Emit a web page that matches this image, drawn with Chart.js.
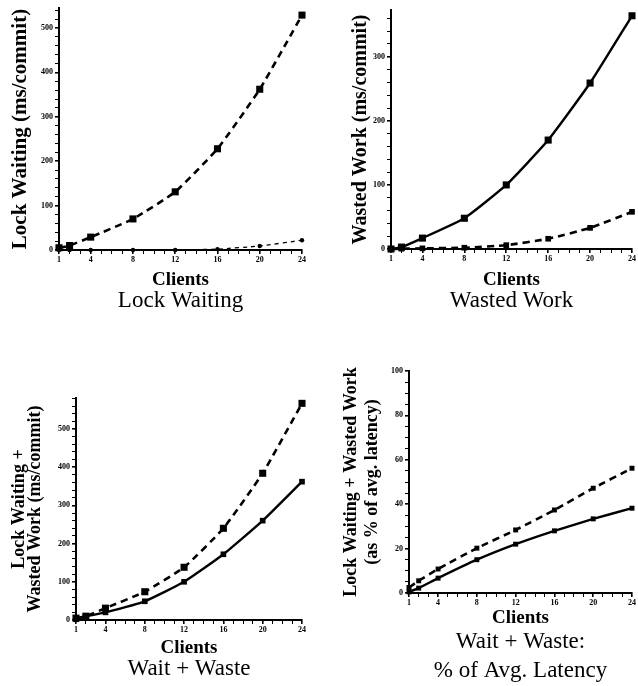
<!DOCTYPE html>
<html>
<head>
<meta charset="utf-8">
<script src="https://cdn.jsdelivr.net/npm/chart.js@4.4.1/dist/chart.umd.min.js"></script>
<style>
  html, body { margin: 0; padding: 0; background: #fff; }
  body { width: 638px; height: 686px; position: relative; overflow: hidden; }
  canvas { position: absolute; }
</style>
</head>
<body>
<canvas id="lockWait" width="320" height="320" style="left:0;top:0"></canvas>
<canvas id="wasted" width="318" height="320" style="left:320px;top:0"></canvas>
<canvas id="total" width="320" height="356" style="left:0;top:330px"></canvas>
<canvas id="pct" width="318" height="356" style="left:320px;top:330px"></canvas>
<script>
// Number of concurrent clients measured
const clients = [1, 2, 4, 8, 12, 16, 20, 24];
const xTickLabels = [1, 4, 8, 12, 16, 20, 24];

// Lock waiting, ms per commit
const lockWaitDashed = [5, 10, 29, 70, 131, 228, 362, 529];
const lockWaitSolid = [0, 0, 0, 0, 0, 2, 9, 22];
const lockWaitTicks = [0, 100, 200, 300, 400, 500];

// Wasted work, ms per commit
const wastedDashed = [0, 0.5, 1, 2, 6, 16, 33, 58];
const wastedSolid = [0, 3, 17, 48, 100, 170, 259, 364];
const wastedTicks = [0, 100, 200, 300];

// Lock waiting + wasted work, ms per commit
const totalDashed = [5, 10, 31, 74, 138, 240, 384, 567];
const totalSolid = [2, 9, 20, 49, 100, 172, 260, 362];
const totalTicks = [0, 100, 200, 300, 400, 500];

// Lock waiting + wasted work as % of average latency
const pctDashed = [2.5, 5.5, 10.8, 20.2, 28.4, 37.4, 47.2, 56.2];
const pctSolid = [0.5, 2.2, 6.7, 15, 22, 28, 33.4, 38.2];
const pctTicks = [0, 20, 40, 60, 80, 100];

const SERIF = "'Liberation Serif', 'Times New Roman', serif";
const tickFont = { family: SERIF, size: 8, weight: 'bold' };

function makePanel(id, o) {
  const datasets = o.series.map(s => ({
    data: clients.map((c, i) => ({ x: c, y: s.values[i] })),
    borderColor: '#000',
    backgroundColor: '#000',
    borderWidth: s.width,
    borderDash: s.dash,
    pointStyle: s.point,
    pointRadius: s.radius,
    pointHoverRadius: s.radius,
    pointBorderWidth: 0,
    tension: 0.15,
    fill: false,
    clip: false
  }));

  const axisGrid = {
    display: true,
    drawOnChartArea: false,
    drawTicks: true,
    tickLength: 4,
    color: '#000',
    lineWidth: 1
  };

  new Chart(document.getElementById(id), {
    type: 'line',
    data: { datasets },
    options: {
      responsive: false,
      animation: false,
      events: [],
      layout: { padding: o.pad },
      plugins: {
        legend: { display: false },
        tooltip: { enabled: false },
        title: {
          display: true,
          position: 'bottom',
          fullSize: false,
          text: o.caption,
          color: '#000',
          font: { family: SERIF, size: 23, weight: 'normal', lineHeight: o.captionLH || 1 },
          padding: { top: 0, bottom: 0 }
        }
      },
      scales: {
        x: {
          type: 'linear',
          min: 1,
          max: 24,
          afterBuildTicks: s => {
            const t = [];
            for (let v = 1; v <= 24; v++) t.push({ value: v });
            s.ticks = t;
          },
          afterFit: s => { s.height = o.xH; },
          ticks: {
            autoSkip: false,
            maxRotation: 0,
            padding: 1,
            color: '#000',
            font: tickFont,
            callback: v => xTickLabels.includes(v) ? String(v) : ''
          },
          grid: Object.assign({}, axisGrid, {
            lineWidth: ctx => (ctx.tick && xTickLabels.includes(ctx.tick.value)) ? 1.6 : 1
          }),
          border: { display: true, color: '#000', width: 2 },
          title: {
            display: true,
            text: 'Clients',
            color: '#000',
            font: { family: SERIF, size: 19, weight: 'bold', lineHeight: 1 },
            padding: { top: 0, bottom: 0 }
          }
        },
        y: {
          type: 'linear',
          min: 0,
          max: o.yMax,
          afterBuildTicks: s => {
            const t = [];
            for (let v = 0; v <= o.yMax + 1e-9; v += o.minor) t.push({ value: v });
            s.ticks = t;
          },
          afterFit: s => { s.width = o.yW; },
          ticks: {
            autoSkip: false,
            padding: 2,
            color: '#000',
            font: tickFont,
            callback: v => o.yLabels.includes(v) ? String(v) : ''
          },
          grid: Object.assign({}, axisGrid, {
            lineWidth: ctx => (ctx.tick && o.yLabels.includes(ctx.tick.value)) ? 1.6 : 1
          }),
          border: { display: true, color: '#000', width: 2 },
          title: {
            display: true,
            text: o.yTitle,
            color: '#000',
            font: { family: SERIF, size: o.yTitleSize, weight: 'bold', lineHeight: o.yTitleLH },
            padding: { top: o.yTitlePad, bottom: 0 }
          }
        }
      }
    }
  });
}

const dashedLine = { width: 2.6, dash: [7, 5], point: 'rect', radius: 5 };
const solidLine = { width: 2.4, dash: [], point: 'rect', radius: 5 };

makePanel('lockWait', {
  caption: 'Lock Waiting',
  yTitle: 'Lock Waiting (ms/commit)',
  yTitleSize: 21, yTitleLH: 1, yTitlePad: 10,
  yMax: 545, minor: 20, yLabels: lockWaitTicks,
  yW: 59, xH: 39.5,
  pad: { top: 8, right: 18, bottom: 7.5, left: 0 },
  series: [
    Object.assign({}, dashedLine, { values: lockWaitDashed }),
    { values: lockWaitSolid, width: 1.3, dash: [4, 4], point: 'circle', radius: 2.2 }
  ]
});

makePanel('wasted', {
  caption: 'Wasted Work',
  yTitle: 'Wasted Work (ms/commit)',
  yTitleSize: 20, yTitleLH: 1, yTitlePad: 31,
  yMax: 373, minor: 20, yLabels: wastedTicks,
  yW: 71, xH: 40.5,
  pad: { top: 10, right: 6, bottom: 7.5, left: 0 },
  series: [
    Object.assign({}, solidLine, { values: wastedSolid }),
    Object.assign({}, dashedLine, { values: wastedDashed, radius: 4 })
  ]
});

makePanel('total', {
  caption: 'Wait + Waste',
  yTitle: ['Lock Waiting +', 'Wasted Work (ms/commit)'],
  yTitleSize: 18, yTitleLH: 0.9, yTitlePad: 11,
  yMax: 581, minor: 20, yLabels: totalTicks,
  yW: 76, xH: 37.5,
  pad: { top: 68, right: 18, bottom: 5.5, left: 0 },
  series: [
    Object.assign({}, dashedLine, { values: totalDashed }),
    Object.assign({}, solidLine, { values: totalSolid, radius: 4 })
  ]
});

makePanel('pct', {
  caption: ['Wait + Waste:', '% of Avg. Latency'],
  captionLH: 1.25,
  yTitle: ['Lock Waiting + Wasted Work', '(as % of avg. latency)'],
  yTitleSize: 18, yTitleLH: 1.17, yTitlePad: 20.5,
  yMax: 100, minor: 5, yLabels: pctTicks,
  yW: 89, xH: 34.6,
  pad: { top: 41, right: 6, bottom: 0.9, left: 0 },
  series: [
    Object.assign({}, dashedLine, { values: pctDashed, radius: 3.5 }),
    Object.assign({}, solidLine, { values: pctSolid, radius: 3.5 })
  ]
});
</script>
</body>
</html>
